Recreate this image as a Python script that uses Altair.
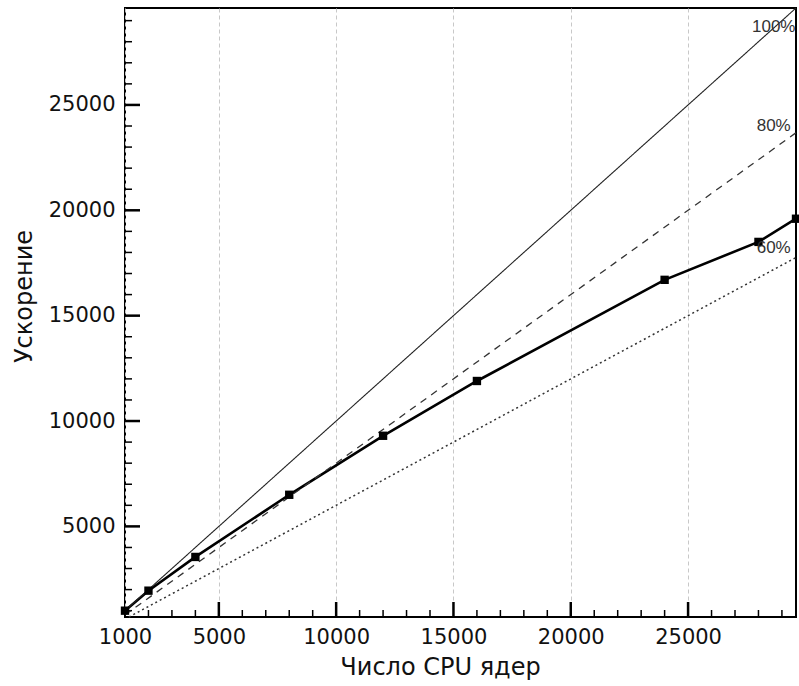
import altair as alt
import pandas as pd

# measured speedup
cores = [1000, 2000, 4000, 8000, 12000, 16000, 24000, 28000, 29600]
speedup = [1000, 1950, 3550, 6500, 9300, 11900, 16700, 18500, 19600]

# ideal efficiency lines (start/end points inside the plotted range)
ideal_100_x = [1000, 29600]
ideal_100 = [1000, 29600]
ideal_80_x = [1000, 29600]
ideal_80 = [800, 23680]
ideal_60_x = [1167, 29600]
ideal_60 = [700, 17760]

# efficiency labels
eff_labels = ["100%", "80%", "60%"]
eff_label_x = [28650, 28650, 28650]
eff_label_y = [28700, 23980, 18210]

# axis ticks
x_labels = [1000, 5000, 10000, 15000, 20000, 25000]
x_major = [5000, 10000, 15000, 20000, 25000]
x_minor = [2000, 3000, 4000, 6000, 7000, 8000, 9000, 11000, 12000, 13000,
           14000, 16000, 17000, 18000, 19000, 21000, 22000, 23000, 24000,
           26000, 27000, 28000, 29000]
y_labels = [5000, 10000, 15000, 20000, 25000]
y_major = [5000, 10000, 15000, 20000, 25000]
y_minor = [1000, 2000, 3000, 4000, 6000, 7000, 8000, 9000, 11000, 12000,
           13000, 14000, 16000, 17000, 18000, 19000, 21000, 22000, 23000,
           24000, 26000, 27000, 28000, 29000]

X_DOM = [1000, 29600]
Y_DOM = [700, 29600]
W, H = 671, 609
FONT = "DejaVu Sans"
X_PER_PX = (X_DOM[1] - X_DOM[0]) / W
Y_PER_PX = (Y_DOM[1] - Y_DOM[0]) / H

xs = alt.Scale(domain=X_DOM, nice=False, zero=False)
ys = alt.Scale(domain=Y_DOM, nice=False, zero=False)

data_df = pd.DataFrame({"cores": cores, "speedup": speedup})
lab_df = pd.DataFrame({"lx": eff_label_x, "ly": eff_label_y, "t": eff_labels})

x_axis = alt.Axis(
    values=x_labels, format="d", tickSize=0, tickOpacity=0,
    domainOpacity=0, grid=True,
    gridColor="#c8c8c8", gridDash=[4, 3], gridWidth=1,
    labelFont=FONT, labelFontSize=21, labelColor="#111", labelPadding=9,
    labelFlush=False,
    title="Число CPU ядер", titleFont=FONT, titleFontSize=24,
    titleFontWeight="normal", titleColor="#111", titlePadding=8,
    titleX=315,
)
y_axis = alt.Axis(
    values=y_labels, format="d", tickSize=0, tickOpacity=0,
    domainOpacity=0, grid=False,
    labelFont=FONT, labelFontSize=21, labelColor="#111", labelPadding=10,
    title="Ускорение", titleFont=FONT, titleFontSize=24,
    titleFontWeight="normal", titleColor="#111", titlePadding=12,
    titleY=288,
)

def xticks(vals, length, width, name):
    df = pd.DataFrame({name: vals})
    df[name + "_a"] = Y_DOM[0]
    df[name + "_b"] = Y_DOM[0] + length * Y_PER_PX
    return alt.Chart(df).mark_rule(
        color="black", strokeWidth=width,
    ).encode(
        x=alt.X(f"{name}:Q", scale=xs),
        y=alt.Y(f"{name}_a:Q", scale=ys),
        y2=f"{name}_b:Q",
    )

def yticks(vals, length, width, name):
    df = pd.DataFrame({name: vals})
    df[name + "_a"] = X_DOM[0]
    df[name + "_b"] = X_DOM[0] + length * X_PER_PX
    return alt.Chart(df).mark_rule(
        color="black", strokeWidth=width,
    ).encode(
        y=alt.Y(f"{name}:Q", scale=ys),
        x=alt.X(f"{name}_a:Q", scale=xs),
        x2=f"{name}_b:Q",
    )

meas_line = alt.Chart(data_df).mark_line(color="black", strokeWidth=2.6).encode(
    x=alt.X("cores:Q", scale=xs, axis=x_axis),
    y=alt.Y("speedup:Q", scale=ys, axis=y_axis),
)
meas_pts = alt.Chart(data_df).mark_square(size=70, color="black", opacity=1).encode(
    x=alt.X("cores:Q", scale=xs),
    y=alt.Y("speedup:Q", scale=ys),
)

def ideal_line(xv, yv, name, dash, width, color):
    df = pd.DataFrame({"ix": xv, name: yv})
    return alt.Chart(df).mark_line(
        strokeDash=dash, strokeWidth=width, color=color
    ).encode(
        x=alt.X("ix:Q", scale=xs),
        y=alt.Y(f"{name}:Q", scale=ys),
    )

l100 = ideal_line(ideal_100_x, ideal_100, "i100", [1, 0], 1.1, "#222")
l80 = ideal_line(ideal_80_x, ideal_80, "i80", [7, 6], 1.3, "#333")
l60 = ideal_line(ideal_60_x, ideal_60, "i60", [2, 3], 1.5, "#333")

labels = alt.Chart(lab_df).mark_text(
    font="Liberation Sans", fontSize=17, color="#333",
    align="center", baseline="middle"
).encode(
    x=alt.X("lx:Q", scale=xs),
    y=alt.Y("ly:Q", scale=ys),
    text="t:N",
)

chart = alt.layer(
    meas_line,
    xticks(x_major, 15, 2.5, "xmaj"), xticks(x_minor, 7, 1.5, "xmin"),
    yticks(y_major, 15, 2.5, "ymaj"), yticks(y_minor, 7, 1.5, "ymin"),
    l100, l80, l60, meas_pts, labels,
).properties(
    width=W, height=H,
    autosize=alt.AutoSizeParams(type="none"),
    padding={"left": 125, "top": 8, "right": 3, "bottom": 69},
    background="white",
).configure_view(
    stroke="black", strokeWidth=2,
)

chart.save("out.html", embed_options={"renderer": "svg", "actions": False})
